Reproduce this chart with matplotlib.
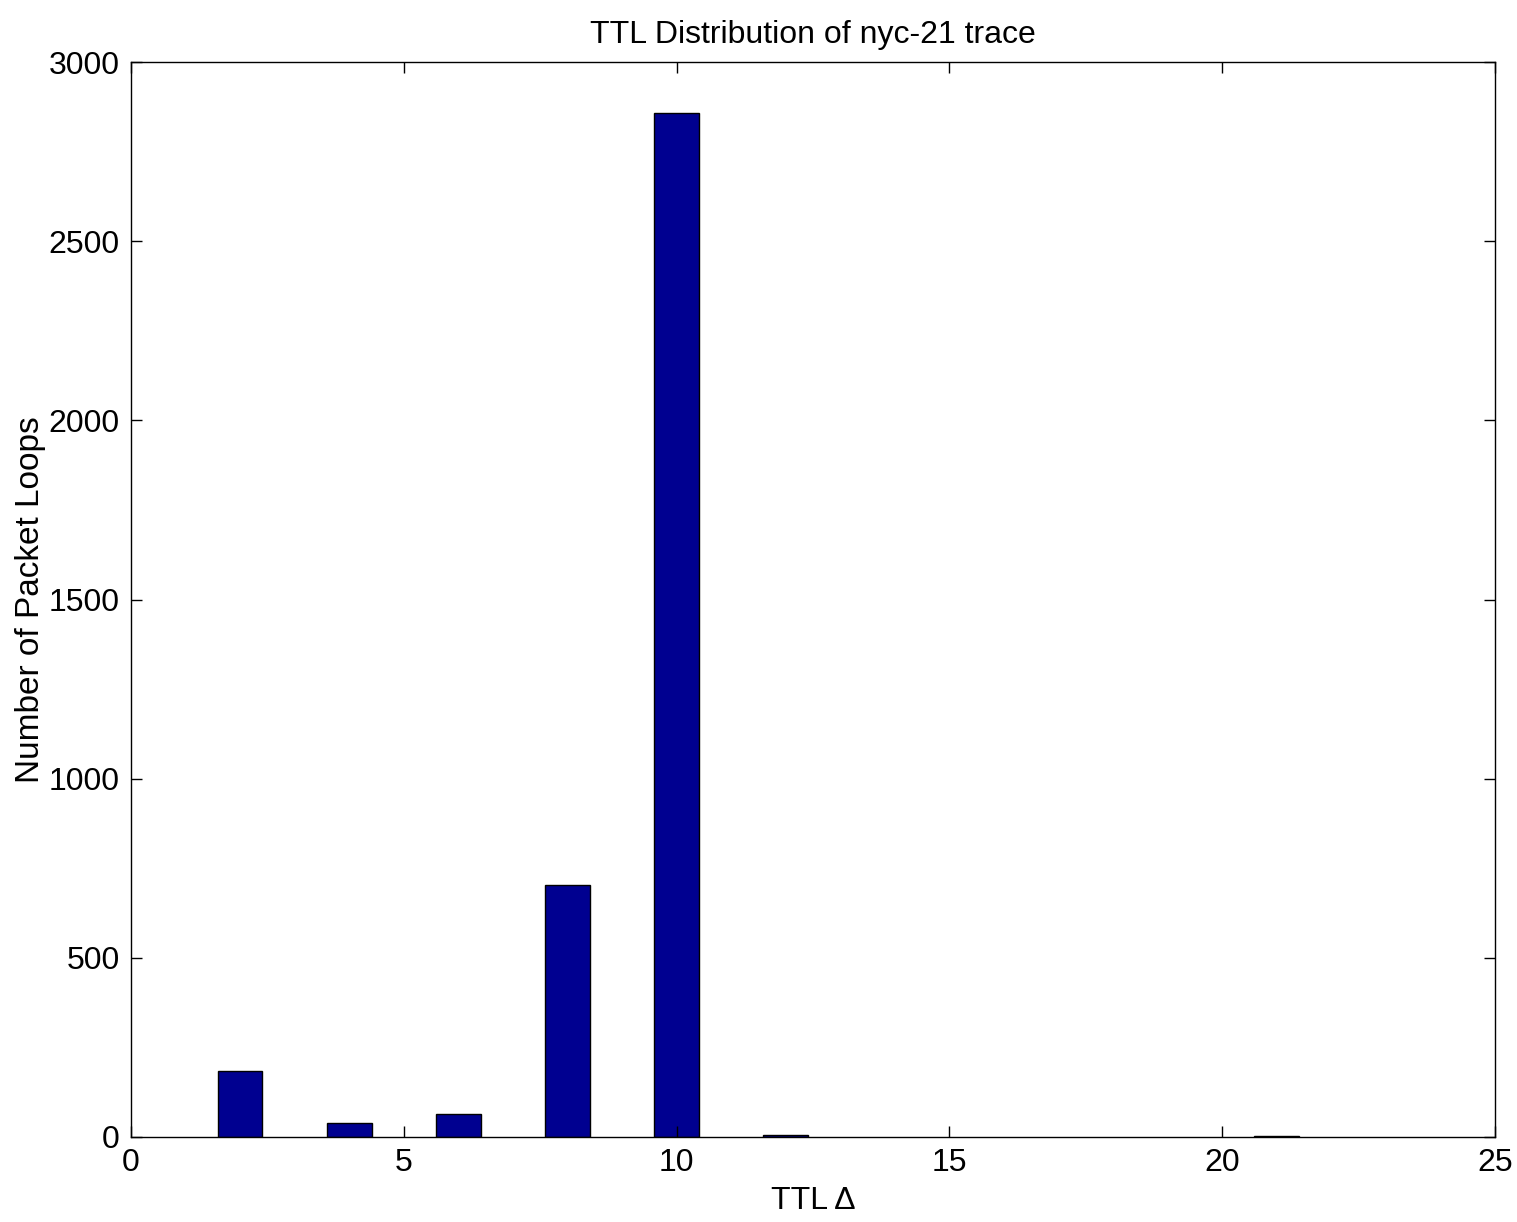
import matplotlib
matplotlib.use("Agg")
import matplotlib.pyplot as plt

ttl_delta = [2, 4, 6, 8, 10, 12, 21]
loops = [185, 38, 63, 702, 2858, 6, 3]
x_ticks = [0, 5, 10, 15, 20, 25]
y_ticks = [0, 500, 1000, 1500, 2000, 2500, 3000]

plt.rcParams['font.family'] = ['Liberation Sans', 'DejaVu Sans']
fig = plt.figure(figsize=(15.17, 12.22), dpi=100)
ax = fig.add_axes([131/1517, 1-1137/1222, (1495-131)/1517, (1137-62)/1222])
ax.bar(ttl_delta, loops, width=0.82, color='#000090', edgecolor='black', linewidth=1)
ax.set_xlim(0, 25)
ax.set_ylim(0, 3000)
ax.set_xticks(x_ticks)
ax.set_yticks(y_ticks)
ax.tick_params(direction='in', top=True, right=True, length=8, width=1, labelsize=23, pad=8)
for s in ax.spines.values():
    s.set_linewidth(1)
ax.set_title('TTL Distribution of nyc-21 trace', fontsize=23, pad=14)
ax.set_xlabel('TTL Δ', fontsize=23, labelpad=6)
ax.set_ylabel('Number of Packet Loops', fontsize=24)
ax.yaxis.set_label_coords(-0.062, 0.5)
fig.savefig('out.png', dpi=100)
